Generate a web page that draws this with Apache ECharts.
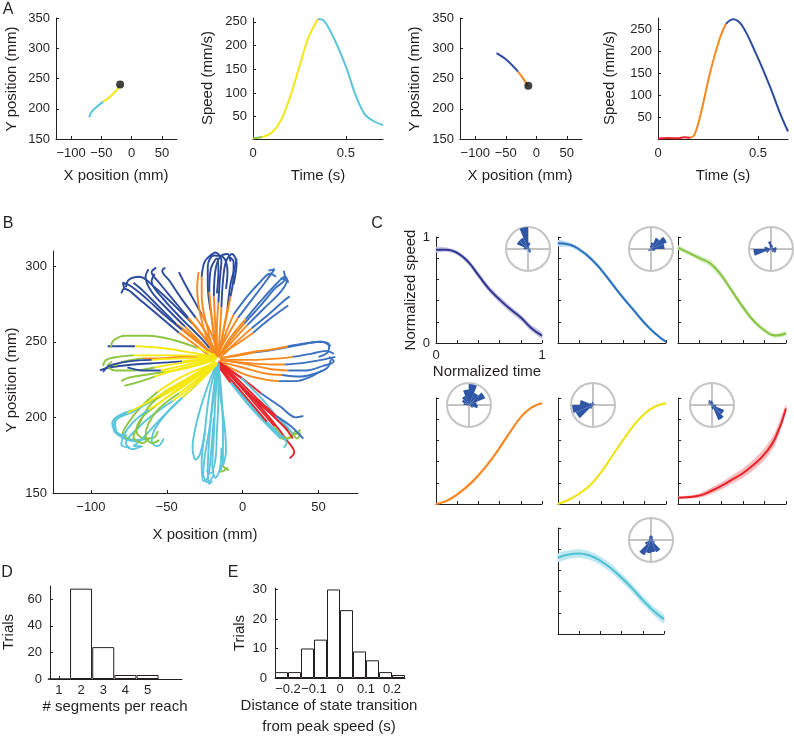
<!DOCTYPE html>
<html>
<head>
<meta charset="utf-8">
<script src="https://cdn.jsdelivr.net/npm/echarts@6/dist/echarts.min.js"></script>
<style>
html, body { margin: 0; padding: 0; background: #fff; }
#main { width: 794px; height: 738px; }
</style>
</head>
<body>
<div id="main"></div>
<script>
// ---- A: two example reaches ----
var a1Cyan = [[-70, 186], [-67.6, 192.5], [-60.5, 200.7], [-46.8, 211.7]];
var a1Yellow = [[-46.8, 211.7], [-35.7, 219.9], [-24.6, 231], [-19.2, 239.3]];
var a1Start = [[-19, 240]];
var a2Green = [[0, 4], [0.05, 7]];
var a2Yellow = [[0.05, 7], [0.1, 16], [0.15, 42], [0.2, 92], [0.25, 156], [0.3, 218], [0.35, 256]];
var a2Cyan = [[0.35, 256], [0.38, 253], [0.43, 220], [0.5, 156], [0.55, 98], [0.6, 56], [0.64, 43], [0.7, 32]];
var a3Blue = [[-65, 292], [-48.4, 280.6], [-29.8, 261.3]];
var a3Orange = [[-29.8, 261.3], [-21.6, 250.3], [-13.4, 237.6]];
var a3Start = [[-13, 238]];
var a4Red = [[0, 1], [0.05, 2], [0.1, 1.5], [0.13, 4], [0.16, 3]];
var a4Orange = [[0.16, 3], [0.18, 8], [0.21, 50], [0.26, 150], [0.31, 230], [0.34, 262]];
var a4Blue = [[0.34, 262], [0.375, 272], [0.42, 258], [0.49, 194], [0.56, 119], [0.61, 59], [0.65, 17]];

// ---- B: all reaches, one list per target direction ----
// each reach = list of segments: [state, x1, y1, x2, y2, ...]
var bUpLeft = [
    [['o', -16, 240, -24, 251, -33, 262], ['db', -45, 274, -58, 286, -68, 293, -75, 291, -77, 286]],
    [['o', -18, 239, -27, 249, -38, 260], ['db', -50, 272, -60, 283, -64, 293, -62, 298]],
    [['o', -17, 241, -23, 254, -31, 266], ['db', -40, 278, -48, 290, -53, 297, -51, 299]],
    [['o', -19, 238, -30, 247, -42, 256], ['db', -55, 267, -68, 278, -78, 285, -80, 282]],
    [['o', -16, 242, -21, 256, -27, 268], ['db', -33, 279, -39, 290, -42, 296]],
    [['o', -18, 240, -30, 251, -44, 262], ['db', -56, 274, -66, 284, -72, 289]],
    [['o', -17, 240, -22, 246], ['db', -28, 253, -40, 265, -52, 278, -60, 290, -58, 295]],
    [['o', -17, 241, -26, 254, -36, 266], ['db', -46, 278, -55, 289, -60, 296, -57, 299]],
    [['o', -18, 240, -29, 249, -40, 258], ['db', -52, 268, -64, 279, -74, 287, -79, 289, -78, 285]]
];
var bUp = [
    [['o', -17, 240, -19, 255, -21, 270], ['db', -23, 287, -23, 300, -19, 307, -13, 306, -10, 296, -11, 285]],
    [['o', -16, 241, -15, 257, -14, 273], ['db', -13, 290, -11, 303, -7, 308, -4, 302, -6, 288]],
    [['o', -18, 239, -23, 258, -27, 280, -27, 293], ['db', -25, 303, -20, 308]],
    [['o', -17, 240, -18, 260, -19, 280], ['db', -18, 297, -15, 306, -10, 308, -8, 303]],
    [['o', -16, 240, -13, 256, -10, 272], ['db', -8, 288, -5, 300, -4, 305]],
    [['o', -17, 240, -20, 262, -22, 283], ['db', -21, 298, -17, 305, -16, 296, -17, 282]],
    [['o', -18, 240, -26, 260, -30, 285, -29, 296]],
    [['o', -17, 241, -17, 258, -16, 276], ['db', -15, 292, -14, 304, -18, 309, -22, 306]],
    [['o', -16, 240, -12, 260, -8, 280], ['db', -6, 294, -6, 303, -9, 306]]
];
var bUpRight = [
    [['o', -16, 240, -8, 251, 1, 262], ['mb', 11, 273, 21, 285, 28, 292, 27, 297]],
    [['o', -17, 241, -10, 254, -3, 266], ['mb', 7, 279, 16, 291, 21, 298, 17, 297]],
    [['o', -15, 239, -5, 249, 6, 259], ['mb', 17, 268, 27, 277, 31, 280]],
    [['o', -16, 240, -8, 253, 2, 265], ['mb', 12, 277, 22, 288, 28, 293, 30, 289]],
    [['o', -17, 240, -6, 247, 7, 256], ['mb', 19, 266, 30, 274]],
    [['o', -16, 241, -11, 256, -6, 268], ['mb', 3, 280, 12, 290, 18, 295, 22, 293]],
    [['o', -16, 240, -7, 250, 3, 261], ['mb', 14, 272, 25, 283, 29, 290, 25, 292]]
];
var bRight = [
    [['o', -15, 239, -2, 241, 8, 243], ['mb', 22, 245, 38, 248, 50, 250, 57, 248, 56, 243, 50, 240]],
    [['o', -15, 238, 2, 236, 20, 235, 28, 235], ['mb', 40, 236, 52, 238, 61, 240]],
    [['o', -16, 237, 0, 233, 15, 229, 26, 228], ['mb', 38, 227, 48, 229, 56, 233, 58, 238]],
    [['o', -15, 238, 5, 238, 25, 239, 33, 240], ['mb', 45, 242, 55, 244, 60, 242]],
    [['o', -16, 237, 0, 229, 15, 225, 24, 224], ['mb', 35, 224, 45, 227, 52, 231]],
    [['o', -15, 239, 5, 243, 20, 245, 30, 247], ['mb', 42, 249, 52, 250, 58, 247]],
    [['o', -15, 238, 3, 235, 18, 232, 30, 231], ['mb', 42, 231, 53, 234, 60, 237, 57, 240]]
];
var bDownRight = [
    [['r', -16, 236, -5, 225, 8, 211, 20, 197, 29, 185, 34, 177, 31, 173]],
    [['r', -15, 235, -3, 222, 10, 207, 21, 194], ['g', 29, 186, 33, 188, 35, 192]],
    [['r', -17, 235, -9, 226], ['c', 2, 212, 14, 198, 24, 188, 28, 185, 26, 188]],
    [['r', -15, 236, -2, 227, 12, 216], ['mb', 25, 207, 35, 200, 40, 201]],
    [['r', -16, 236, -4, 224, 8, 212, 20, 201, 30, 192], ['g', 35, 189, 38, 192]],
    [['r', -17, 235, -8, 223], ['c', 4, 208, 16, 195, 25, 186], ['g', 30, 186, 33, 190]],
    [['r', -16, 236, -6, 226, 6, 214, 18, 203, 28, 193, 33, 186]],
    [['r', -15, 236, -1, 226], ['c', 12, 213, 23, 200, 30, 193, 33, 189], ['g', 36, 186, 38, 190]],
    [['r', -16, 235, -6, 223, 5, 210, 16, 197], ['c', 24, 189, 29, 183, 27, 180]],
    [['r', -15, 236, -3, 225, 10, 212, 22, 201], ['mb', 32, 194, 38, 188, 40, 186]]
];
var bDown = [
    [['c', -17, 236, -22, 215, -25, 190, -27, 170, -26, 158, -23, 160, -21, 175, -19, 200]],
    [['c', -16, 235, -18, 212, -19, 188, -20, 168, -18, 160, -15, 166, -14, 180]],
    [['c', -17, 236, -24, 218, -30, 198, -33, 180, -31, 172, -28, 176, -25, 190]],
    [['c', -16, 236, -14, 215, -13, 192, -13, 172, -15, 164], ['g', -12, 165, -10, 167]],
    [['c', -17, 236, -20, 210, -22, 186, -23, 166, -22, 156, -20, 158]],
    [['c', -16, 235, -16, 214, -17, 190, -18, 172, -21, 163, -24, 165]],
    [['c', -16, 236, -19, 214, -22, 192, -25, 174, -26, 162, -23, 157, -19, 162]],
    [['c', -17, 235, -15, 216, -12, 195, -11, 178, -13, 168], ['g', -11, 166, -9, 165]]
];
var bDownLeft = [
    [['y', -18, 236, -35, 225, -55, 213, -72, 205], ['c', -82, 201, -86, 196, -80, 188, -70, 185, -62, 186]],
    [['y', -18, 236, -32, 222, -46, 211], ['c', -60, 201, -70, 192, -77, 183, -73, 179, -66, 181]],
    [['y', -17, 236, -30, 227, -45, 217, -58, 207], ['g', -67, 199, -70, 191, -65, 186, -58, 187, -56, 191]],
    [['y', -18, 236, -30, 222], ['c', -44, 209, -56, 197, -66, 186, -72, 181, -67, 181]],
    [['y', -17, 236, -38, 228, -56, 217], ['g', -67, 207, -75, 197, -79, 189, -74, 185]],
    [['y', -18, 236, -38, 224, -58, 212], ['c', -72, 204, -84, 197, -83, 190, -76, 188]],
    [['y', -17, 235, -28, 224, -40, 213], ['c', -50, 203, -58, 192, -60, 184, -56, 181, -52, 186]],
    [['y', -18, 236, -34, 227, -50, 218], ['g', -62, 207, -68, 196, -72, 187, -66, 183, -62, 186]],
    [['y', -18, 237, -36, 226, -54, 215, -68, 207, -76, 203], ['c', -84, 198, -85, 192, -78, 186, -70, 184]],
    [['y', -17, 236, -34, 224, -50, 213, -62, 205], ['c', -72, 197, -78, 189, -80, 182, -74, 180]],
    [['y', -18, 235, -30, 225, -42, 216], ['g', -55, 206, -62, 196, -64, 188, -60, 183, -55, 185]]
];
var bLeft = [
    [['y', -18, 240, -35, 243, -55, 246, -71, 247], ['db', -80, 247, -89, 247]],
    [['y', -18, 241, -30, 246], ['g', -45, 251, -62, 254, -77, 254, -85, 251, -87, 246]],
    [['y', -17, 239, -30, 238, -40, 237], ['db', -55, 236, -72, 235, -88, 233, -94, 231]],
    [['y', -18, 239, -40, 236, -58, 233], ['g', -72, 231, -84, 231, -89, 234, -86, 237]],
    [['y', -18, 238, -35, 233, -52, 230], ['g', -65, 228, -76, 226, -80, 224]],
    [['y', -17, 240, -30, 240], ['o', -42, 240, -54, 239, -66, 239], ['g', -78, 237, -85, 234]],
    [['y', -18, 238, -42, 232, -58, 227], ['g', -70, 223, -78, 221]],
    [['y', -17, 239, -40, 239, -60, 238], ['db', -75, 237, -88, 234, -92, 230]],
    [['y', -17, 240, -38, 241, -58, 241, -72, 241], ['g', -82, 240, -90, 238, -92, 234]],
    [['y', -18, 239, -36, 235, -54, 231], ['db', -66, 231, -76, 233]]
];

// ---- C: normalized speed per state ----
var cTime = [0, 0.1, 0.2, 0.3, 0.4, 0.5, 0.6, 0.7, 0.8, 0.9, 1];
var c1Mean = [0.88, 0.88, 0.85, 0.77, 0.64, 0.51, 0.41, 0.32, 0.24, 0.14, 0.07];
var c1Err = [0.025, 0.02, 0.02, 0.025, 0.03, 0.03, 0.03, 0.03, 0.03, 0.03, 0.03];
var c2Mean = [0.94, 0.93, 0.88, 0.8, 0.69, 0.56, 0.43, 0.31, 0.19, 0.09, 0.01];
var c2Err = [0.03, 0.02, 0.02, 0.02, 0.02, 0.02, 0.02, 0.02, 0.02, 0.015, 0.01];
var c3Mean = [0.9, 0.85, 0.8, 0.75, 0.64, 0.49, 0.34, 0.21, 0.12, 0.07, 0.09];
var c3Err = [0.02, 0.02, 0.025, 0.03, 0.03, 0.03, 0.03, 0.025, 0.02, 0.02, 0.02];
var c4Mean = [0, 0.03, 0.09, 0.17, 0.27, 0.39, 0.53, 0.68, 0.82, 0.91, 0.95];
var c4Err = [0.005, 0.01, 0.015, 0.02, 0.02, 0.02, 0.02, 0.015, 0.01, 0.01, 0.01];
var c5Mean = [0, 0.04, 0.1, 0.18, 0.3, 0.45, 0.6, 0.74, 0.85, 0.92, 0.95];
var c5Err = [0.005, 0.01, 0.01, 0.01, 0.01, 0.01, 0.01, 0.01, 0.01, 0.01, 0.01];
var c6Mean = [0.06, 0.065, 0.08, 0.12, 0.17, 0.23, 0.29, 0.37, 0.47, 0.62, 0.9];
var c6Err = [0.01, 0.015, 0.02, 0.03, 0.035, 0.04, 0.045, 0.05, 0.055, 0.06, 0.04];
var c7Mean = [0.72, 0.75, 0.76, 0.74, 0.69, 0.62, 0.53, 0.43, 0.32, 0.22, 0.14];
var c7Err = [0.04, 0.04, 0.04, 0.04, 0.04, 0.04, 0.04, 0.04, 0.04, 0.04, 0.04];

// rose histograms, 16 bins counter-clockwise from east
var roseBins = ['E', 'ENE', 'NE', 'NNE', 'N', 'NNW', 'NW', 'WNW', 'W', 'WSW', 'SW', 'SSW', 'S', 'SSE', 'SE', 'ESE'];
var rose1 = [0.1, 0, 0.1, 0.3, 1.0, 0.55, 0.55, 0.2, 0.1, 0, 0, 0, 0.1, 0.2, 0.15, 0.1];
var rose2 = [0.62, 0.78, 0.55, 0.3, 0.15, 0.05, 0, 0.05, 0.1, 0.15, 0.1, 0, 0.05, 0.1, 0.15, 0.2];
var rose3 = [0.25, 0.1, 0.15, 0.2, 0.35, 0.1, 0.05, 0.3, 0.8, 0.25, 0.05, 0, 0.05, 0.15, 0.25, 0.25];
var rose4 = [0.35, 0.8, 0.6, 0.95, 0.7, 0.45, 0.35, 0.25, 0.1, 0, 0, 0, 0, 0.05, 0.2, 0.4];
var rose5 = [0.1, 0, 0.05, 0.1, 0.15, 0.1, 0.15, 0.6, 0.95, 0.85, 0.2, 0, 0, 0, 0, 0.05];
var rose6 = [0.1, 0.05, 0.1, 0.15, 0.2, 0.25, 0.2, 0.1, 0.05, 0, 0.05, 0.1, 0.2, 0.75, 0.6, 0.2];
var rose7 = [0.1, 0.1, 0.15, 0.2, 0.2, 0.15, 0.1, 0.1, 0.1, 0.3, 0.75, 0.6, 0.55, 0.6, 0.2, 0.1];

// ---- D, E: histograms ----
var dSegments = [1, 2, 3, 4, 5];
var dTrials = [0, 68, 24, 3, 3];
var eDistance = [-0.225, -0.175, -0.125, -0.075, -0.025, 0.025, 0.075, 0.125, 0.175, 0.225];
var eTrials = [2, 2, 10, 13, 30, 23, 9, 6, 2, 1];

// tick labels
var posTicks = [-100, -50, 0, 50];
var aYTicks = [150, 200, 250, 300, 350];
var speedTicks = [50, 100, 150, 200, 250];
var timeTicks = [0, 0.5];
var bYTicks = [150, 200, 250, 300];
var cTicks = [0, 0.2, 0.4, 0.6, 0.8, 1];
var cLabels = [0, 1];
var dXTicks = [1, 2, 3, 4, 5];
var dYTicks = [0, 20, 40, 60];
var eXTicks = [-0.2, -0.1, 0, 0.1, 0.2];
var eYTicks = [0, 10, 20, 30];

// ---- styling ----
var FONT = '"Liberation Sans", Arial, Helvetica, sans-serif';
var INK = '#231f20';
var stateColors = {
    db: '#2d4b9d', mb: '#3b71c0', g: '#8cc640', o: '#f7891f',
    y: '#f5e812', r: '#e8222b', c: '#5bc5db'
};
var cLine = ['#2f3591', '#2b72bd', '#86c441', '#f7861c', '#efe30c', '#e72128', '#4fbfd4'];
var cBand = ['#c9c2e2', '#bcd8f1', '#d6ecc2', '#fcd6b5', '#f9f3a6', '#f6bcbf', '#c0e8f1'];
var roseColor = '#2f55a5';
var ringColor = '#c4c4c4';

var grids = [], xAxes = [], yAxes = [], series = [];

function minus(v) { return String(v).replace('-', '\u2212'); }

function addGrid(left, top, width, height) {
    grids.push({left: left, top: top, width: width, height: height, show: false,
        containLabel: false, outerBoundsMode: 'none'});
    return grids.length - 1;
}

function axis(gi, min, max, ticks, labels, margin) {
    return {
        type: 'value', gridIndex: gi, min: min, max: max,
        axisLine: {show: true, onZero: false, lineStyle: {color: INK, width: 1}},
        axisTick: {show: true, inside: true, length: 3, customValues: ticks, lineStyle: {color: INK}},
        axisLabel: {show: labels.length > 0, customValues: labels, color: INK, fontSize: 13,
            fontFamily: FONT, margin: margin, formatter: minus},
        splitLine: {show: false}
    };
}

function path(gi, pts, color, width) {
    series.push({
        type: 'line', xAxisIndex: gi, yAxisIndex: gi, data: pts, smooth: 0.35,
        symbol: 'none', showSymbol: false, silent: true,
        lineStyle: {color: color, width: width}
    });
}

function dot(gi, pts) {
    series.push({type: 'scatter', xAxisIndex: gi, yAxisIndex: gi, data: pts,
        symbolSize: 8, itemStyle: {color: '#111'}, silent: true, z: 5});
}

// A
var gA1 = addGrid(56, 18, 121, 121);
xAxes.push(axis(gA1, -125, 75, posTicks, posTicks, 8));
yAxes.push(axis(gA1, 150, 350, aYTicks, aYTicks, 6));
path(gA1, a1Cyan, stateColors.c, 2);
path(gA1, a1Yellow, stateColors.y, 2);
dot(gA1, a1Start);

var gA2 = addGrid(253, 18, 130, 121);
xAxes.push(axis(gA2, 0, 0.7, timeTicks, timeTicks, 8));
yAxes.push(axis(gA2, 3, 258, speedTicks, speedTicks, 6));
path(gA2, a2Green, stateColors.g, 2);
path(gA2, a2Yellow, stateColors.y, 2);
path(gA2, a2Cyan, stateColors.c, 2);

var gA3 = addGrid(460, 18, 122, 121);
xAxes.push(axis(gA3, -125, 75, posTicks, posTicks, 8));
yAxes.push(axis(gA3, 150, 350, aYTicks, aYTicks, 6));
path(gA3, a3Blue, stateColors.db, 2);
path(gA3, a3Orange, stateColors.o, 2);
dot(gA3, a3Start);

var gA4 = addGrid(658, 18, 130, 121);
xAxes.push(axis(gA4, 0, 0.65, timeTicks, timeTicks, 8));
yAxes.push(axis(gA4, 0, 275, speedTicks, speedTicks, 6));
path(gA4, a4Red, stateColors.r, 2);
path(gA4, a4Orange, stateColors.o, 2);
path(gA4, a4Blue, stateColors.db, 2);

// B
var gB = addGrid(53, 251, 305, 242);
xAxes.push(axis(gB, -125, 76, posTicks, posTicks, 8));
yAxes.push(axis(gB, 150, 310, bYTicks, bYTicks, 6));
[bUpLeft, bUp, bUpRight, bRight, bDownRight, bDown, bDownLeft, bLeft].forEach(function (group) {
    group.forEach(function (reach) {
        var last = null;
        reach.forEach(function (seg) {
            var pts = last ? [last] : [];
            for (var i = 1; i < seg.length; i += 2) pts.push([seg[i], seg[i + 1]]);
            path(gB, pts, stateColors[seg[0]], 1.9);
            last = pts[pts.length - 1];
        });
    });
});

// C
var cBoxes = [[436, 237, 106], [558, 237, 108], [678, 237, 108],
    [436, 398, 106], [558, 398, 108], [678, 398, 108], [558, 528, 106]];
var cMeans = [c1Mean, c2Mean, c3Mean, c4Mean, c5Mean, c6Mean, c7Mean];
var cErrs = [c1Err, c2Err, c3Err, c4Err, c5Err, c6Err, c7Err];
cBoxes.forEach(function (b, k) {
    var gi = addGrid(b[0], b[1], b[2], 106);
    var lab = k === 0 ? cLabels : [];
    xAxes.push(axis(gi, 0, 1, cTicks, lab, 6));
    yAxes.push(axis(gi, 0, 1, cTicks, lab, 6));
    var mean = cMeans[k], err = cErrs[k];
    // shaded band between mean - err and mean + err
    series.push({
        type: 'custom', coordinateSystem: 'cartesian2d', xAxisIndex: gi, yAxisIndex: gi,
        silent: true, data: [[0, 0]],
        renderItem: function (params, api) {
            var pts = [];
            for (var i = 0; i < cTime.length; i++) pts.push(api.coord([cTime[i], mean[i] + err[i]]));
            for (var j = cTime.length - 1; j >= 0; j--) pts.push(api.coord([cTime[j], mean[j] - err[j]]));
            return {type: 'polygon', shape: {points: pts, smooth: 0.2}, style: {fill: cBand[k]}};
        }
    });
    series.push({
        type: 'line', xAxisIndex: gi, yAxisIndex: gi, smooth: true, symbol: 'none', silent: true,
        lineStyle: {color: cLine[k], width: 2}, z: 3,
        data: cTime.map(function (t, i) { return [t, mean[i]]; })
    });
});

// rose insets
var roseCenters = [[528, 249], [651, 249], [771, 249], [469, 405], [593, 405], [712, 405], [651, 540]];
var roses = [rose1, rose2, rose3, rose4, rose5, rose6, rose7];
var polars = [], angleAxes = [], radiusAxes = [];
roseCenters.forEach(function (c, i) {
    polars.push({center: [c[0], c[1]], radius: 22});
    angleAxes.push({
        polarIndex: i, type: 'category', data: roseBins, startAngle: 0, clockwise: false,
        axisLine: {show: true, lineStyle: {color: ringColor, width: 2}},
        axisTick: {show: false, interval: 3},
        axisLabel: {show: false},
        splitLine: {show: true, interval: 3, lineStyle: {color: ringColor, width: 2}},
        z: 1
    });
    radiusAxes.push({polarIndex: i, min: 0, max: 1, show: false});
    series.push({
        type: 'bar', coordinateSystem: 'polar', polarIndex: i, data: roses[i],
        barCategoryGap: '0%', silent: true, itemStyle: {color: roseColor}, z: 3
    });
});

// D
var gD = addGrid(50, 586, 132, 93);
xAxes.push(axis(gD, 0.6, 6.55, dXTicks, dXTicks, 5));
yAxes.push(axis(gD, 0, 70, dYTicks, dYTicks, 8));
series.push({
    type: 'bar', xAxisIndex: gD, yAxisIndex: gD, barWidth: 22, silent: true,
    data: dSegments.map(function (s, i) { return [s, dTrials[i]]; }),
    itemStyle: {color: '#fff', borderColor: INK, borderWidth: 1}
});

// E
var gE = addGrid(275, 588, 130, 90);
xAxes.push(axis(gE, -0.25, 0.25, eXTicks, eXTicks, 5));
yAxes.push(axis(gE, 0, 30.5, eYTicks, eYTicks, 8));
series.push({
    type: 'bar', xAxisIndex: gE, yAxisIndex: gE, barWidth: 13, silent: true,
    data: eDistance.map(function (d, i) { return [d, eTrials[i]]; }),
    itemStyle: {color: '#fff', borderColor: INK, borderWidth: 1}
});

// text
function txt(s, x, y, size, vertical) {
    return {
        type: 'text', x: x, y: y, rotation: vertical ? Math.PI / 2 : 0, silent: true, z: 10,
        style: {text: s, font: size + 'px ' + FONT, fill: INK, align: 'center', verticalAlign: 'middle'}
    };
}
var texts = [
    txt('A', 8, 10, 16), txt('B', 8, 224, 16), txt('C', 377, 224, 16),
    txt('D', 7, 573, 16), txt('E', 233, 573, 16),
    txt('Y position (mm)', 12, 79, 15, true), txt('X position (mm)', 116, 176, 15),
    txt('Speed (mm/s)', 208, 78, 15, true), txt('Time (s)', 318, 176, 15),
    txt('Y position (mm)', 415, 79, 15, true), txt('X position (mm)', 520, 176, 15),
    txt('Speed (mm/s)', 610, 78, 15, true), txt('Time (s)', 723, 176, 15),
    txt('Y position (mm)', 12, 380, 15, true), txt('X position (mm)', 205, 535, 15),
    txt('Normalized speed', 411, 290, 15, true), txt('Normalized time', 487, 372, 15),
    txt('Trials', 9, 632, 15, true), txt('# segments per reach', 115, 707, 15),
    txt('Trials', 240, 633, 15, true),
    txt('Distance of state transition', 329, 706, 15), txt('from peak speed (s)', 329, 727, 15)
];

var chart = echarts.init(document.getElementById('main'));
chart.setOption({
    animation: false,
    backgroundColor: '#fff',
    textStyle: {fontFamily: FONT},
    grid: grids,
    xAxis: xAxes,
    yAxis: yAxes,
    polar: polars,
    angleAxis: angleAxes,
    radiusAxis: radiusAxes,
    series: series,
    graphic: texts
});
</script>
</body>
</html>
